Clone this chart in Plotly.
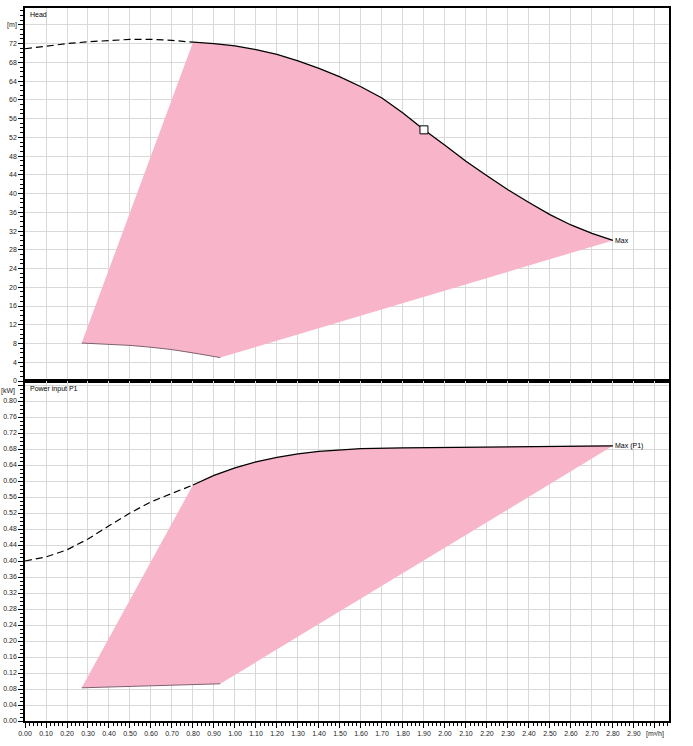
import numpy as np
import plotly.graph_objects as go

# ---------------- data ----------------
head_dash_x = [0.0, 0.1, 0.2, 0.3, 0.4, 0.5, 0.6, 0.7, 0.8]
head_dash_y = [70.9, 71.5, 72.0, 72.4, 72.7, 72.9, 72.9, 72.7, 72.3]

head_x = [0.8, 0.9, 1.0, 1.1, 1.2, 1.3, 1.4, 1.5, 1.6, 1.7, 1.8, 1.9, 2.0,
          2.1, 2.2, 2.3, 2.4, 2.5, 2.6, 2.7, 2.8]
head_y = [72.3, 72.0, 71.5, 70.7, 69.7, 68.3, 66.7, 64.9, 62.8, 60.4, 57.2,
          53.6, 50.3, 46.9, 43.8, 40.8, 38.1, 35.5, 33.3, 31.5, 30.0]

head_low_x = [0.27, 0.4, 0.5, 0.6, 0.7, 0.8, 0.93]
head_low_y = [8.1, 7.9, 7.6, 7.2, 6.7, 6.0, 5.0]

duty_x = [1.9]
duty_y = [53.6]

pow_dash_x = [0.0, 0.1, 0.2, 0.3, 0.4, 0.5, 0.6, 0.7, 0.8]
pow_dash_y = [0.400, 0.410, 0.428, 0.455, 0.488, 0.520, 0.548, 0.570, 0.590]

pow_x = [0.8, 0.9, 1.0, 1.1, 1.2, 1.3, 1.4, 1.5, 1.6, 1.8, 2.0, 2.2, 2.4,
         2.6, 2.7, 2.8]
pow_y = [0.590, 0.614, 0.633, 0.648, 0.659, 0.668, 0.674, 0.678, 0.681,
         0.683, 0.684, 0.685, 0.686, 0.688, 0.689, 0.688]

pow_low_x = [0.27, 0.93]
pow_low_y = [0.083, 0.093]

x_tick_vals = [round(i * 0.1, 2) for i in range(31)]
x_tick_text = [f"{v:.2f}" for v in x_tick_vals[:-1]] + ["[m³/h]"]

head_tick_vals = list(range(0, 77, 4))
head_tick_text = [str(v) for v in head_tick_vals[:-1]] + ["[m]"]

pow_tick_vals = [round(i * 0.04, 2) for i in range(21)]
pow_tick_text = [f"{v:.2f}" for v in pow_tick_vals]
pow_unit = "[kW]"

# ---------------- style ----------------
PINK = "#f8b5ca"
GRID = "#d9d9d9"
FONT = "Liberation Sans, Arial, sans-serif"
TICKFONT = dict(family=FONT, size=7, color="#222222")
TXT = dict(family=FONT, size=7, color="black")

W, H = 693, 746
ML, MR, MT, MB = 25, 24, 8, 25

fig = go.Figure()

# Head area
fig.add_trace(go.Scatter(
    x=list(head_low_x) + list(head_x[::-1]),
    y=list(head_low_y) + list(head_y[::-1]),
    fill="toself", fillcolor=PINK, mode="none", hoverinfo="skip",
    xaxis="x", yaxis="y", showlegend=False))
fig.add_trace(go.Scatter(x=head_low_x, y=head_low_y, mode="lines",
                         line=dict(color="#806070", width=1),
                         xaxis="x", yaxis="y", showlegend=False))
fig.add_trace(go.Scatter(x=head_dash_x, y=head_dash_y, mode="lines",
                         line=dict(color="black", width=1.2, dash="7px,4px"),
                         xaxis="x", yaxis="y", showlegend=False))
fig.add_trace(go.Scatter(x=head_x, y=head_y, mode="lines",
                         line=dict(color="black", width=1.3),
                         xaxis="x", yaxis="y", showlegend=False))
fig.add_trace(go.Scatter(x=duty_x, y=duty_y, mode="markers",
                         marker=dict(symbol="square", size=8, color="white",
                                     line=dict(color="black", width=1)),
                         xaxis="x", yaxis="y", showlegend=False))

# Power area
fig.add_trace(go.Scatter(
    x=list(pow_low_x) + list(pow_x[::-1]),
    y=list(pow_low_y) + list(pow_y[::-1]),
    fill="toself", fillcolor=PINK, mode="none", hoverinfo="skip",
    xaxis="x2", yaxis="y2", showlegend=False))
fig.add_trace(go.Scatter(x=pow_low_x, y=pow_low_y, mode="lines",
                         line=dict(color="#806070", width=1),
                         xaxis="x2", yaxis="y2", showlegend=False))
fig.add_trace(go.Scatter(x=pow_dash_x, y=pow_dash_y, mode="lines",
                         line=dict(color="black", width=1.2, dash="7px,4px"),
                         xaxis="x2", yaxis="y2", showlegend=False))
fig.add_trace(go.Scatter(x=pow_x, y=pow_y, mode="lines",
                         line=dict(color="black", width=1.3),
                         xaxis="x2", yaxis="y2", showlegend=False))

plot_h = H - MT - MB
split = 340 / plot_h
x_range = [0, 3.067]

common_axis = dict(showline=True, linecolor="black", linewidth=1.5, mirror=True,
                   showgrid=True, gridcolor=GRID, gridwidth=1, zeroline=False,
                   tickfont=TICKFONT, automargin=False)

fig.update_layout(
    width=W, height=H,
    margin=dict(l=ML, r=MR, t=MT, b=MB, pad=0),
    paper_bgcolor="white", plot_bgcolor="white",
    showlegend=False,
    xaxis=dict(common_axis, domain=[0, 1], anchor="y", range=x_range,
               tickvals=x_tick_vals, showticklabels=False, ticks="",
               matches="x2"),
    yaxis=dict(common_axis, domain=[split, 1], anchor="x", range=[0, 79.6],
               tickvals=head_tick_vals, ticktext=head_tick_text,
               ticks="outside", ticklen=5, tickcolor="black",
               minor=dict(dtick=1, tick0=0, ticks="outside", ticklen=3,
                          tickcolor="black", showgrid=False)),
    xaxis2=dict(common_axis, domain=[0, 1], anchor="y2", range=x_range,
                tickvals=x_tick_vals, ticktext=x_tick_text,
                ticks="outside", ticklen=5, tickcolor="black",
                minor=dict(dtick=0.02, tick0=0, ticks="outside", ticklen=3,
                           tickcolor="black", showgrid=False)),
    yaxis2=dict(common_axis, domain=[0, split], anchor="x2", range=[0, 0.85],
                tickvals=pow_tick_vals + [0.84], ticktext=pow_tick_text + [""],
                ticks="outside", ticklen=5, tickcolor="black",
                minor=dict(dtick=0.01, tick0=0, ticks="outside", ticklen=3,
                           tickcolor="black", showgrid=False)),
    annotations=[
        dict(text="Head", xref="x domain", yref="y domain", x=0.004, y=0.997,
             xanchor="left", yanchor="top", showarrow=False, font=TXT),
        dict(text="Power input P1", xref="x2 domain", yref="y2 domain",
             x=0.004, y=0.995, xanchor="left", yanchor="top", showarrow=False,
             font=TXT),
        dict(text=pow_unit, xref="paper", yref="y2 domain", x=0, y=1,
             xanchor="right", yanchor="top", xshift=-8, yshift=-4,
             showarrow=False, font=TICKFONT),
        dict(text="Max", xref="x", yref="y", x=head_x[-1], y=head_y[-1],
             xanchor="left", yanchor="middle", showarrow=False, font=TXT),
        dict(text="Max (P1)", xref="x2", yref="y2", x=pow_x[-1], y=pow_y[-1],
             xanchor="left", yanchor="middle", showarrow=False, font=TXT),
    ],
)

# remove the browser's default page margin so the figure sits at the top-left corner
fig.write_html("out.html",
               config={"displayModeBar": False},
               post_script="document.body.style.margin='0px';")
